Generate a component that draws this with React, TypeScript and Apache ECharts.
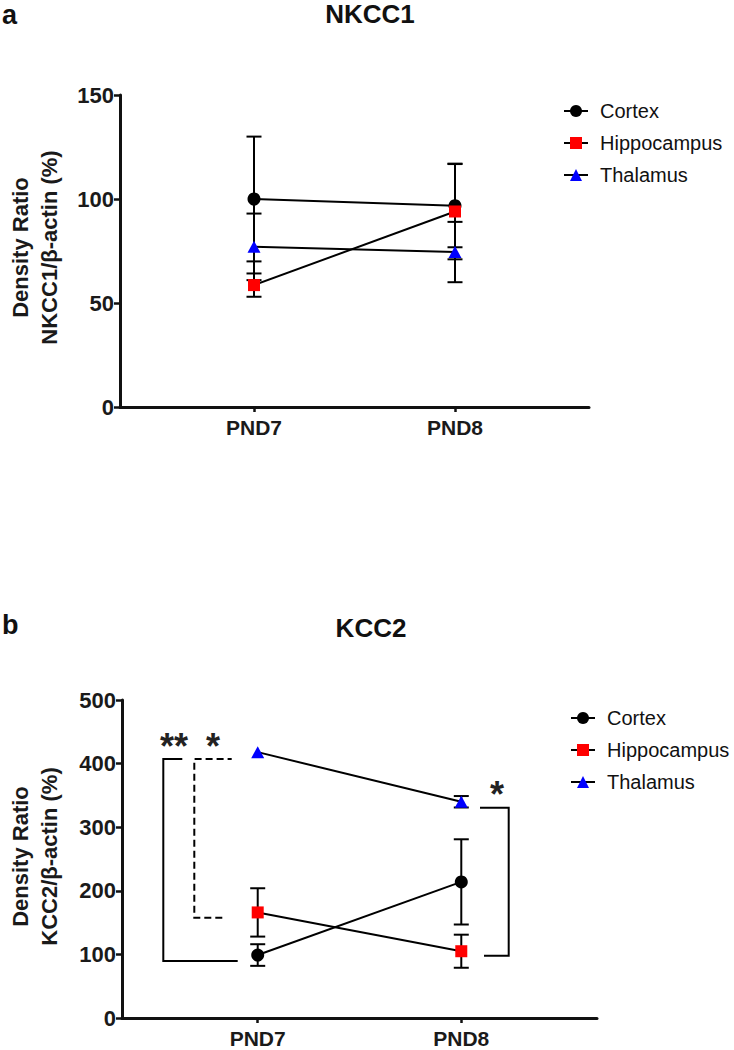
import React, { useEffect, useRef } from 'react';
import * as echarts from 'echarts';

// categories and axis slots (the plot leaves room on both sides of the two days)
const categories = ['PND7', 'PND8'];
const axisSlots = ['s0', 's1', 'PND7', 's3', 's4', 'PND8', 's6', 's7'];
const groups = ['Cortex', 'Hippocampus', 'Thalamus'];

// Panel a: NKCC1 (mean, error)
const nkccCortex = [100, 96.8];
const nkccCortexErr = [30, 20];
const nkccHippo = [58.6, 94];
const nkccHippoErr = [5.6, 23];
const nkccThal = [77, 74.5];
const nkccThalErr = [16, 14.5];

// Panel b: KCC2 (mean, error)
const kccCortex = [99, 214];
const kccCortexErr = [17, 67];
const kccHippo = [166, 105];
const kccHippoErr = [38, 26];
const kccThal = [418, 340];
const kccThalErr = [0, 9];

// y axes
const yMaxA = 150;
const yStepA = 50;
const yMaxB = 500;
const yStepB = 100;

const FONT = '"Liberation Sans", Arial, Helvetica, sans-serif';
const colors = ['#000000', '#ff0000', '#0000ff'];
const symbols = ['circle', 'rect', 'triangle'];
const symbolSizes: any[] = [13, 12, [13, 12]];

function App() {
  const ref = useRef<HTMLDivElement>(null);
  useEffect(() => {
    if (!ref.current) return;
    const chart = echarts.init(ref.current, undefined, { renderer: 'svg' });

    const show = (v: string) => categories.includes(v);

    const mkX = (gridIndex: number) => ({
      type: 'category',
      gridIndex,
      data: axisSlots,
      boundaryGap: false,
      axisLine: { lineStyle: { color: '#111', width: 3 } },
      axisTick: {
        show: true,
        interval: (_i: number, v: string) => show(v),
        length: 5,
        lineStyle: { color: '#111', width: 2.5 },
      },
      axisLabel: {
        interval: (_i: number, v: string) => show(v),
        formatter: (v: string) => (show(v) ? v : ''),
        fontFamily: FONT,
        fontWeight: 'bold',
        fontSize: 21,
        color: '#1a1a1a',
        margin: 10,
      },
      splitLine: { show: false },
    });

    const mkY = (gridIndex: number, max: number, step: number, name: string, pad: number, gap: number) => ({
      type: 'value',
      gridIndex,
      min: 0,
      max,
      interval: step,
      name,
      nameLocation: 'middle',
      nameRotate: 90,
      nameGap: gap,
      nameTextStyle: {
        fontFamily: FONT,
        fontWeight: 'bold',
        fontSize: 22,
        lineHeight: 29,
        color: '#1a1a1a',
        padding: [0, 0, 0, pad],
      },
      axisLine: { show: true, lineStyle: { color: '#111', width: 3 } },
      axisTick: { show: true, length: 6, lineStyle: { color: '#111', width: 2.5 } },
      axisLabel: {
        fontFamily: FONT,
        fontWeight: 'bold',
        fontSize: 22,
        color: '#1a1a1a',
        margin: 6,
      },
      splitLine: { show: false },
    });

    const dataA = [nkccCortex, nkccHippo, nkccThal];
    const errA = [nkccCortexErr, nkccHippoErr, nkccThalErr];
    const dataB = [kccCortex, kccHippo, kccThal];
    const errB = [kccCortexErr, kccHippoErr, kccThalErr];

    const errorSeries = (gridIdx: number, means: number[], errs: number[], name: string) => ({
      type: 'custom',
      name: name + '_err' + gridIdx,
      xAxisIndex: gridIdx,
      yAxisIndex: gridIdx,
      z: 1,
      silent: true,
      data: categories.map((c, i) => [c, means[i], errs[i]]),
      encode: { x: 0, y: 1 },
      renderItem: (_p: any, api: any) => {
        const x = api.value(0);
        const m = api.value(1);
        const e = api.value(2);
        if (!(e > 0)) return { type: 'group', children: [] };
        const top = api.coord([x, m + e]);
        const bot = api.coord([x, m - e]);
        const hw = 7.5;
        const st = { stroke: '#000', lineWidth: 2 };
        return {
          type: 'group',
          children: [
            { type: 'line', shape: { x1: top[0], y1: top[1], x2: bot[0], y2: bot[1] }, style: st },
            { type: 'line', shape: { x1: top[0] - hw, y1: top[1], x2: top[0] + hw, y2: top[1] }, style: st },
            { type: 'line', shape: { x1: bot[0] - hw, y1: bot[1], x2: bot[0] + hw, y2: bot[1] }, style: st },
          ],
        };
      },
    });

    const lineSeries = (gridIdx: number, means: number[], gi: number) => ({
      type: 'line',
      name: groups[gi],
      xAxisIndex: gridIdx,
      yAxisIndex: gridIdx,
      z: 3,
      data: categories.map((c, i) => [c, means[i]]),
      symbol: symbols[gi],
      symbolSize: symbolSizes[gi],
      showSymbol: true,
      lineStyle: { color: '#000', width: 2 },
      itemStyle: { color: colors[gi], borderWidth: 0 },
      silent: true,
    });

    const series: any[] = [];
    for (let g = 0; g < 3; g++) {
      series.push(errorSeries(0, dataA[g], errA[g], groups[g]));
      series.push(errorSeries(1, dataB[g], errB[g], groups[g]));
    }
    for (let g = 0; g < 3; g++) {
      series.push(lineSeries(0, dataA[g], g));
      series.push(lineSeries(1, dataB[g], g));
    }

    const legendCommon = {
      orient: 'vertical',
      data: groups,
      itemWidth: 24,
      itemHeight: 15,
      itemGap: 12,
      selectedMode: false,
      textStyle: {
        fontFamily: FONT,
        fontSize: 20,
        color: '#111',
        lineHeight: 20,
        padding: [0, 0, 0, 7],
      },
    };

    const starStyle = { fontFamily: FONT, fontWeight: 'bold', fontSize: 36, fill: '#222', textAlign: 'center', textVerticalAlign: 'middle' };

    chart.setOption({
      animation: false,
      backgroundColor: '#ffffff',
      grid: [
        { left: 120, top: 95, width: 469, height: 312, outerBoundsMode: 'none', containLabel: false },
        { left: 122, top: 700, width: 475, height: 318, outerBoundsMode: 'none', containLabel: false },
      ],
      xAxis: [mkX(0), mkX(1)],
      yAxis: [
        mkY(0, yMaxA, yStepA, 'Density Ratio\nNKCC1/\u03b2-actin (%)', 7, 56),
        mkY(1, yMaxB, yStepB, 'Density Ratio\nKCC2/\u03b2-actin (%)', 5, 58),
      ],
      legend: [
        { ...legendCommon, left: 558, top: 96 },
        { ...legendCommon, left: 565, top: 703 },
      ],
      series,
      graphic: [
        { type: 'text', left: 2, top: 1, style: { text: 'a', font: `bold 27px ${FONT}`, fill: '#111' } },
        { type: 'text', x: 370, y: 14, style: { text: 'NKCC1', fontFamily: FONT, fontWeight: 'bold', fontSize: 26, fill: '#111', textAlign: 'center', textVerticalAlign: 'middle' } },
        { type: 'text', left: 2, top: 611, style: { text: 'b', font: `bold 27px ${FONT}`, fill: '#111' } },
        { type: 'text', x: 371, y: 627.5, style: { text: 'KCC2', fontFamily: FONT, fontWeight: 'bold', fontSize: 26, fill: '#111', textAlign: 'center', textVerticalAlign: 'middle' } },
        // significance brackets (panel b)
        { type: 'polyline', shape: { points: [[237.7, 961], [163.3, 961], [163.3, 759], [182.3, 759]] }, style: { stroke: '#000', lineWidth: 2, fill: 'none' } },
        { type: 'polyline', shape: { points: [[222.3, 917.7], [194.3, 917.7], [194.3, 759], [231.7, 759]] }, style: { stroke: '#000', lineWidth: 2, fill: 'none', lineDash: [7, 4] } },
        { type: 'polyline', shape: { points: [[480, 807.7], [508.7, 807.7], [508.7, 955.7], [484, 955.7]] }, style: { stroke: '#000', lineWidth: 2, fill: 'none' } },
        { type: 'text', x: 174, y: 746, style: { text: '**', ...starStyle } },
        { type: 'text', x: 213, y: 746, style: { text: '*', ...starStyle } },
        { type: 'text', x: 497, y: 794, style: { text: '*', ...starStyle } },
      ],
    });
    return () => chart.dispose();
  }, []);
  return <div ref={ref} style={{ position: 'absolute', left: 0, top: 0, width: 734, height: 1050 }} />;
}

export default App;
